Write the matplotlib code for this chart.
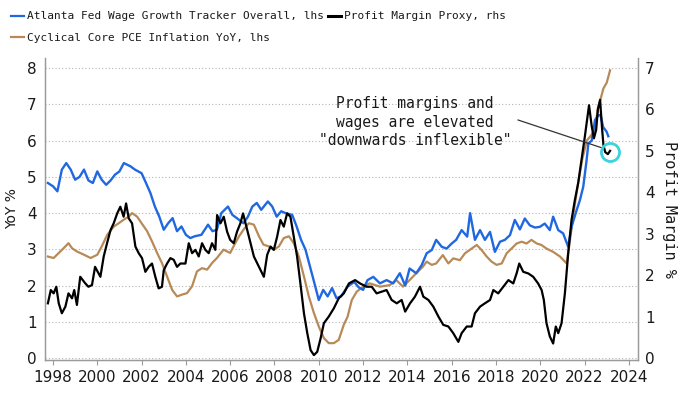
import matplotlib
matplotlib.use("Agg")
import matplotlib.pyplot as plt
from matplotlib.lines import Line2D

# ---------------- data ----------------
wage_years = [1997.77, 1998.0, 1998.2, 1998.4, 1998.6, 1998.8, 1999.0, 1999.2, 1999.4, 1999.6,
              1999.8, 2000.0, 2000.2, 2000.4, 2000.6, 2000.8, 2001.0, 2001.2, 2001.5, 2001.7,
              2002.0, 2002.2, 2002.4, 2002.6, 2002.8, 2003.0, 2003.2, 2003.4, 2003.6, 2003.8,
              2004.0, 2004.2, 2004.4, 2004.7, 2005.0, 2005.2, 2005.4, 2005.6, 2005.9, 2006.1,
              2006.3, 2006.6, 2006.8, 2007.0, 2007.2, 2007.4, 2007.7, 2007.9, 2008.1, 2008.3,
              2008.5, 2008.8, 2009.0, 2009.2, 2009.4, 2009.6, 2009.8, 2010.0, 2010.2, 2010.4,
              2010.6, 2010.8, 2011.0, 2011.3, 2011.6, 2011.8, 2012.0, 2012.2, 2012.46, 2012.76,
              2013.06, 2013.36, 2013.66, 2013.9, 2014.1, 2014.4, 2014.65, 2014.87, 2015.1, 2015.3,
              2015.55, 2015.77, 2016.0, 2016.2, 2016.45, 2016.7, 2016.83, 2017.05, 2017.28, 2017.5,
              2017.73, 2017.95, 2018.18, 2018.4, 2018.63, 2018.85, 2019.08, 2019.3, 2019.53, 2019.76,
              2019.98, 2020.2, 2020.43, 2020.58, 2020.81, 2021.03, 2021.26, 2021.41, 2021.64, 2021.79,
              2021.94, 2022.09, 2022.17, 2022.32, 2022.47, 2022.62, 2022.72, 2022.84, 2022.99, 2023.07]
wage_values = [4.83, 4.74, 4.6, 5.2, 5.38, 5.2, 4.92, 5.0, 5.2, 4.9,
               4.83, 5.15, 4.92, 4.78, 4.9, 5.06, 5.15, 5.38, 5.29, 5.2,
               5.1, 4.83, 4.55, 4.18, 3.9, 3.54, 3.72, 3.86, 3.5, 3.63,
               3.4, 3.31, 3.36, 3.4, 3.68, 3.5, 3.54, 4.0, 4.18, 3.95,
               3.86, 3.72, 3.9, 4.18, 4.28, 4.09, 4.32, 4.18, 3.9, 4.05,
               4.0, 3.95, 3.63, 3.26, 2.99, 2.53, 2.07, 1.6, 1.88, 1.7,
               1.93, 1.65, 1.7, 1.97, 2.1, 1.95, 1.88, 2.15, 2.24, 2.06,
               2.15, 2.06, 2.34, 2.0, 2.47, 2.34, 2.57, 2.89, 2.98, 3.26,
               3.07, 3.02, 3.16, 3.26, 3.53, 3.35, 4.0, 3.26, 3.53, 3.26,
               3.48, 2.93, 3.21, 3.26, 3.39, 3.81, 3.55, 3.85, 3.66, 3.6,
               3.62, 3.71, 3.53, 3.9, 3.53, 3.44, 3.07, 3.62, 4.08, 4.36,
               4.73, 5.46, 5.92, 6.0, 6.57, 6.7, 6.7, 6.37, 6.25, 6.12]

pce_years = [1997.77, 1998.03, 1998.33, 1998.56, 1998.7, 1998.86, 1999.08, 1999.4, 1999.7, 2000.0,
             2000.2, 2000.45, 2000.75, 2000.97, 2001.2, 2001.42, 2001.57, 2001.8, 2002.0, 2002.25,
             2002.47, 2002.7, 2002.92, 2003.15, 2003.38, 2003.6, 2003.83, 2004.05, 2004.28, 2004.5,
             2004.73, 2004.96, 2005.18, 2005.4, 2005.7, 2006.0, 2006.15, 2006.4, 2006.6, 2006.84,
             2007.07, 2007.3, 2007.5, 2007.74, 2007.97, 2008.2, 2008.42, 2008.65, 2008.87, 2009.1,
             2009.33, 2009.55, 2009.78, 2010.0, 2010.23, 2010.45, 2010.68, 2010.9, 2011.13, 2011.3,
             2011.49, 2011.71, 2012.0, 2012.3, 2012.76, 2013.2, 2013.5, 2013.8, 2014.1, 2014.4,
             2014.7, 2014.87, 2015.1, 2015.3, 2015.6, 2015.85, 2016.07, 2016.37, 2016.6, 2016.9,
             2017.13, 2017.35, 2017.58, 2017.8, 2018.03, 2018.26, 2018.48, 2018.7, 2018.93, 2019.16,
             2019.38, 2019.6, 2019.84, 2020.05, 2020.28, 2020.58, 2020.89, 2021.19, 2021.35, 2021.5,
             2021.7, 2021.9, 2022.1, 2022.3, 2022.47, 2022.6, 2022.7, 2022.85, 2023.0, 2023.15]
pce_values = [2.8, 2.76, 2.94, 3.08, 3.17, 3.03, 2.94, 2.85, 2.76, 2.85,
              3.08, 3.4, 3.63, 3.72, 3.82, 3.9, 4.0, 3.9, 3.72, 3.5,
              3.22, 2.9, 2.62, 2.25, 1.88, 1.7, 1.75, 1.79, 1.98, 2.39,
              2.48, 2.44, 2.62, 2.76, 2.99, 2.9, 3.08, 3.36, 3.54, 3.72,
              3.68, 3.36, 3.13, 3.08, 2.99, 3.08, 3.31, 3.36, 3.17, 2.8,
              2.25, 1.7, 1.24, 0.87, 0.55, 0.41, 0.41, 0.5, 0.92, 1.14,
              1.6, 1.83, 1.97, 2.06, 1.97, 2.01, 2.15, 1.97, 2.15, 2.34,
              2.52, 2.66, 2.57, 2.61, 2.84, 2.61, 2.75, 2.7, 2.89, 3.02,
              3.12, 2.98, 2.8, 2.66, 2.57, 2.61, 2.89, 3.02, 3.16, 3.21,
              3.16, 3.26, 3.16, 3.12, 3.02, 2.93, 2.8, 2.61, 3.3, 4.0,
              4.8, 5.5, 6.0, 6.15, 6.3, 6.9, 7.1, 7.44, 7.6, 7.94]

margin_years = [1997.77, 1997.9, 1998.03, 1998.15, 1998.26, 1998.4, 1998.56, 1998.7, 1998.86, 1998.96,
                1999.08, 1999.23, 1999.46, 1999.6, 1999.76, 1999.9, 2000.14, 2000.29, 2000.44, 2000.6,
                2000.74, 2000.9, 2001.04, 2001.19, 2001.3, 2001.42, 2001.57, 2001.72, 2001.87, 2002.02,
                2002.17, 2002.32, 2002.47, 2002.62, 2002.77, 2002.92, 2003.0, 2003.15, 2003.3, 2003.45,
                2003.6, 2003.75, 2003.98, 2004.13, 2004.28, 2004.43, 2004.58, 2004.73, 2004.88, 2005.03,
                2005.18, 2005.33, 2005.41, 2005.56, 2005.71, 2005.86, 2006.0, 2006.16, 2006.31, 2006.46,
                2006.58, 2006.77, 2006.92, 2007.07, 2007.3, 2007.52, 2007.67, 2007.82, 2007.97, 2008.12,
                2008.27, 2008.42, 2008.57, 2008.72, 2008.87, 2009.02, 2009.17, 2009.33, 2009.48, 2009.63,
                2009.78, 2009.93, 2010.08, 2010.23, 2010.45, 2010.68, 2010.9, 2011.13, 2011.36, 2011.64,
                2011.86, 2012.16, 2012.39, 2012.61, 2012.84, 2013.06, 2013.29, 2013.52, 2013.74, 2013.9,
                2014.12, 2014.34, 2014.57, 2014.72, 2014.95, 2015.17, 2015.4, 2015.62, 2015.85, 2016.07,
                2016.3, 2016.45, 2016.68, 2016.9, 2017.05, 2017.28, 2017.5, 2017.73, 2017.88, 2018.1,
                2018.33, 2018.56, 2018.78, 2018.93, 2019.05, 2019.23, 2019.46, 2019.68, 2019.9, 2020.06,
                2020.16, 2020.28, 2020.43, 2020.58, 2020.7, 2020.81, 2020.96, 2021.11, 2021.26, 2021.41,
                2021.56, 2021.71, 2021.86, 2022.01, 2022.2, 2022.32, 2022.42, 2022.52, 2022.6, 2022.7,
                2022.78, 2022.85, 2022.93, 2023.05, 2023.15]
margin_values = [1.32, 1.64, 1.56, 1.72, 1.32, 1.08, 1.24, 1.56, 1.44, 1.64,
                 1.28, 1.96, 1.8, 1.72, 1.76, 2.2, 1.96, 2.45, 2.77, 3.09,
                 3.25, 3.49, 3.65, 3.41, 3.73, 3.37, 3.25, 2.69, 2.53, 2.41,
                 2.08, 2.2, 2.28, 1.96, 1.68, 1.72, 2.12, 2.28, 2.41, 2.37,
                 2.2, 2.28, 2.28, 2.77, 2.53, 2.61, 2.45, 2.77, 2.61, 2.53,
                 2.77, 2.61, 3.45, 3.25, 3.41, 3.05, 2.85, 2.77, 3.05, 3.25,
                 3.49, 3.09, 2.77, 2.45, 2.2, 1.96, 2.49, 2.69, 2.61, 2.93,
                 3.33, 3.17, 3.49, 3.41, 2.93, 2.45, 1.8, 1.08, 0.6, 0.19,
                 0.07, 0.15, 0.47, 0.84, 1.0, 1.2, 1.44, 1.56, 1.8, 1.88,
                 1.8, 1.72, 1.72, 1.56, 1.6, 1.64, 1.4, 1.32, 1.4, 1.12,
                 1.32, 1.48, 1.72, 1.48, 1.4, 1.24, 1.0, 0.8, 0.76, 0.6,
                 0.39, 0.6, 0.76, 0.76, 1.08, 1.24, 1.32, 1.4, 1.64, 1.56,
                 1.72, 1.88, 1.8, 2.04, 2.28, 2.08, 2.04, 1.96, 1.8, 1.64,
                 1.4, 0.84, 0.52, 0.35, 0.76, 0.6, 0.84, 1.56, 2.53, 3.33,
                 3.81, 4.22, 4.78, 5.34, 6.1, 5.6, 5.3, 5.5, 6.0, 6.23,
                 5.6, 5.14, 4.97, 4.92, 5.0]

x_ticks = list(range(1998, 2025, 2))
left_ticks = [0, 1, 2, 3, 4, 5, 6, 7, 8]
right_ticks = [0, 1, 2, 3, 4, 5, 6, 7]

label_wage = "Atlanta Fed Wage Growth Tracker Overall, lhs"
label_pce = "Cyclical Core PCE Inflation YoY, lhs"
label_margin = "Profit Margin Proxy, rhs"
note_text = 'Profit margins and\nwages are elevated\n"downwards inflexible"'
note_xy = (2014.34, 6.51)            # text centre (lhs units)
pointer_from = (2018.99, 6.57)       # lhs units
pointer_to = (2022.83, 5.79)         # lhs units
highlight_point = (2023.15, 4.97)    # rhs units

# ---------------- style ----------------
BLUE = "#2068e0"
TAN = "#b88a58"
BLACK = "#000000"
CYAN = "#3cd3dc"
SPINE = "#9a9a9a"
TXT = "#1a1a1a"
MONO = "DejaVu Sans Mono"

fig = plt.figure(figsize=(7.0, 3.94), dpi=100)
ax = fig.add_axes([0.0643, 0.0863, 0.8471, 0.7665])
ax2 = ax.twinx()

ax.plot(pce_years, pce_values, color=TAN, lw=1.6, zorder=2, label=label_pce)
ax.plot(wage_years, wage_values, color=BLUE, lw=1.7, zorder=3, label=label_wage)
ax2.plot(margin_years, margin_values, color=BLACK, lw=1.6, zorder=3, label=label_margin)

ax.set_xlim(1997.64, 2024.41)
ax.set_ylim(-0.055, 8.28)
ax2.set_ylim(-0.048, 7.24)

ax.set_xticks(x_ticks)
ax.set_xticklabels([str(t) for t in x_ticks])
ax.set_yticks(left_ticks)
ax2.set_yticks(right_ticks)

for a in (ax, ax2):
    a.spines["top"].set_visible(False)
    for s in ("left", "right", "bottom"):
        a.spines[s].set_color(SPINE)
        a.spines[s].set_linewidth(0.9)

ax.grid(axis="y", linestyle=(0, (1, 2)), color="#b5b5b5", lw=0.8)
ax.set_axisbelow(True)

ax.tick_params(axis="x", length=3.5, width=0.8, color=SPINE, pad=4, labelsize=11, labelcolor=TXT)
ax.tick_params(axis="y", length=0, pad=6, labelsize=11, labelcolor=TXT)
ax2.tick_params(axis="y", length=0, pad=5, labelsize=11, labelcolor=TXT)

ax.set_ylabel("YoY %", fontsize=10, color=TXT, labelpad=6)
ax2.set_ylabel("Profit Margin %", fontsize=11, family=MONO, color=TXT,
               rotation=270, labelpad=16)

# annotation pointer and text
ax2.annotate("", xy=pointer_to, xycoords=ax.transData,
             xytext=pointer_from, textcoords=ax.transData,
             arrowprops=dict(arrowstyle="-", color="#333333", lw=0.9,
                             shrinkA=0, shrinkB=0))
ax2.text(note_xy[0], note_xy[1], note_text, transform=ax.transData, ha="center", va="center",
         multialignment="center", family=MONO, fontsize=10.5, color=TXT,
         linespacing=1.3, zorder=5)

ax2.plot([highlight_point[0]], [highlight_point[1]], marker="o", ms=13, mfc="none",
         mec=CYAN, mew=2, zorder=6)

handles = [Line2D([], [], color=BLUE, lw=1.6),
           Line2D([], [], color=TAN, lw=1.6),
           Line2D([], [], color=BLACK, lw=2.2)]
fig.legend(handles, [label_wage, label_pce, label_margin], ncol=2,
           loc="upper left", bbox_to_anchor=(0.008, 0.985), frameon=False,
           prop={"family": MONO, "size": 8}, handlelength=1.2,
           handletextpad=0.25, columnspacing=0.3, labelspacing=1.05,
           borderpad=0.0, labelcolor=TXT)

fig.savefig("out.png", dpi=100)
